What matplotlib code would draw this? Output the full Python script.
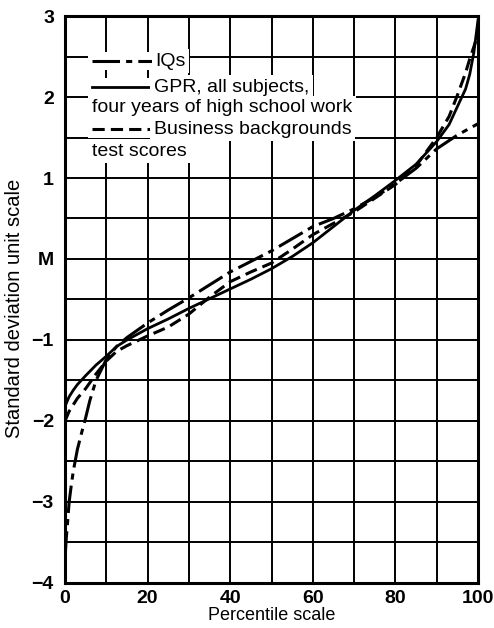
import matplotlib
matplotlib.use('Agg')
import matplotlib.pyplot as plt
from matplotlib.patches import Rectangle

plt.rcParams['font.family'] = ['Liberation Sans', 'DejaVu Sans']

# percentile points
iq_x = [0, 0.3, 0.7, 1, 1.5, 2, 3, 4, 5, 6, 7.5, 10, 12.5, 15, 20, 25, 30, 35, 40, 45, 50, 55, 60, 65, 70, 75, 80, 85, 90, 95, 100]
iq_y = [-3.7, -3.45, -3.2, -3.0, -2.8, -2.62, -2.35, -2.15, -1.96, -1.75, -1.5, -1.24, -1.08, -0.97, -0.79, -0.63, -0.48, -0.32, -0.16, -0.03, 0.1, 0.25, 0.4, 0.5, 0.62, 0.76, 0.93, 1.12, 1.36, 1.53, 1.67]

gpr_x = [0, 1, 2, 3, 5, 7.5, 10, 12.5, 15, 20, 25, 30, 35, 40, 45, 50, 55, 60, 65, 70, 75, 80, 85, 90, 93, 95, 97, 98, 99, 100]
gpr_y = [-1.82, -1.7, -1.62, -1.55, -1.44, -1.31, -1.2, -1.08, -1.0, -0.86, -0.74, -0.61, -0.49, -0.37, -0.25, -0.12, 0.03, 0.2, 0.4, 0.6, 0.78, 0.97, 1.17, 1.45, 1.66, 1.88, 2.1, 2.28, 2.55, 2.95]

bus_x = [0, 1, 2, 3, 5, 7.5, 10, 12.5, 15, 20, 25, 30, 35, 40, 45, 50, 55, 60, 65, 70, 75, 80, 85, 90, 93, 95, 97, 98, 99, 100]
bus_y = [-2.0, -1.88, -1.8, -1.72, -1.6, -1.42, -1.26, -1.14, -1.07, -0.95, -0.84, -0.68, -0.47, -0.28, -0.16, -0.05, 0.12, 0.3, 0.44, 0.58, 0.75, 0.92, 1.15, 1.5, 1.76, 2.02, 2.3, 2.47, 2.62, 2.78]

x_ticks = [0, 20, 40, 60, 80, 100]
y_ticks = [3, 2, 1, 0, -1, -2, -3, -4]
y_labels = ['3', '2', '1', 'M', '\u22121', '\u22122', '\u22123', '\u22124']

fig = plt.figure(figsize=(4.94, 6.28), dpi=100)
ax = fig.add_axes([0.1316, 0.0717, 0.836, 0.9028])

# grid every 10 percentiles / half sd
for gx in range(10, 100, 10):
    ax.axvline(gx, color='black', lw=1.4, zorder=1)
for gy in [v / 2 for v in range(-7, 6)]:
    ax.axhline(gy, color='black', lw=1.4, zorder=1)

ax.plot(iq_x, iq_y, color='black', lw=2.2, dashes=(9, 2, 2, 2), zorder=3)
ax.plot(gpr_x, gpr_y, color='black', lw=2.0, zorder=3)
ax.plot(bus_x, bus_y, color='black', lw=2.2, dashes=(4, 2), zorder=3)

ax.set_xlim(0, 100)
ax.set_ylim(-4, 3)
ax.set_xticks(x_ticks)
ax.set_yticks(y_ticks)
ax.set_yticklabels(y_labels)
ax.tick_params(length=0, labelsize=14, pad=5)
ax.tick_params(axis='y', pad=8)
for lab in ax.get_xticklabels() + ax.get_yticklabels():
    lab.set_fontweight('bold')
for s in ax.spines.values():
    s.set_linewidth(2.2)

ax.set_xlabel('Percentile scale', fontsize=13, labelpad=0)
ax.set_ylabel('Standard deviation unit scale', fontsize=14.5)
ax.yaxis.set_label_coords(-0.10, 0.485)

# legend drawn by hand, with white patches over the grid
box = dict(facecolor='white', edgecolor='none', pad=2.5)
ax.add_patch(Rectangle((5.5, 2.33), 17, 0.22, facecolor='white', edgecolor='none', zorder=4))
ax.add_patch(Rectangle((5.5, 2.01), 17, 0.22, facecolor='white', edgecolor='none', zorder=4))
ax.add_patch(Rectangle((5.5, 1.49), 17, 0.22, facecolor='white', edgecolor='none', zorder=4))
ax.plot([6.5, 21], [2.44, 2.44], color='black', lw=2.2, dashes=(9, 2, 2, 2), zorder=5)
ax.plot([6.5, 21], [2.12, 2.12], color='black', lw=2.0, zorder=5)
ax.plot([6.5, 21], [1.6, 1.6], color='black', lw=2.2, dashes=(4, 2), zorder=5)
ax.text(21.8, 2.44, 'IQs', fontsize=14, va='center', bbox=box, zorder=5)
ax.text(21.5, 2.12, 'GPR, all subjects,', fontsize=14, va='center', bbox=box, zorder=5)
ax.text(6.5, 1.87, 'four years of high school work', fontsize=14, va='center', bbox=box, zorder=5)
ax.text(21.5, 1.6, 'Business backgrounds', fontsize=14, va='center', bbox=box, zorder=5)
ax.text(6.5, 1.33, 'test scores', fontsize=14, va='center', bbox=box, zorder=5)

fig.savefig('out.png', dpi=100)
